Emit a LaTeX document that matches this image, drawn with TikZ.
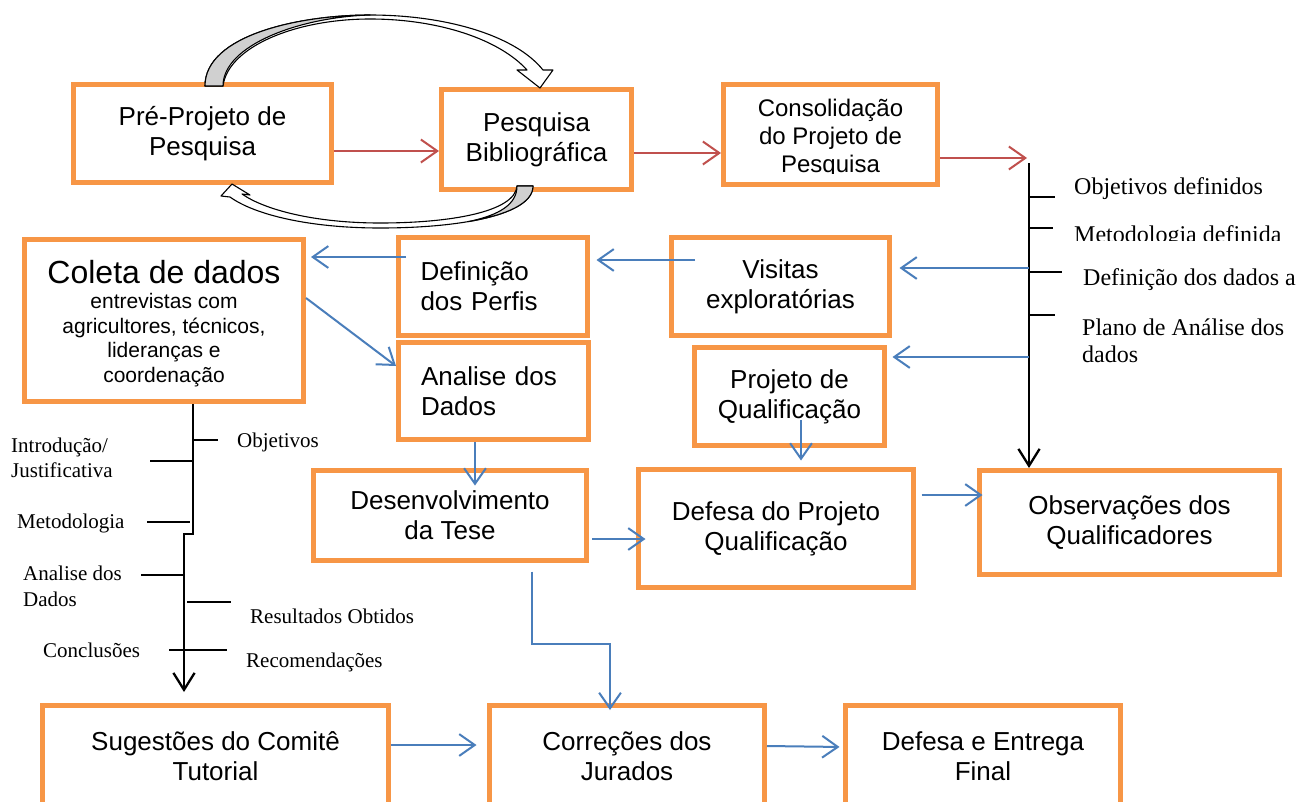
\documentclass[tikz,border=0pt]{standalone}
\usepackage{fontspec}
\setmainfont{Liberation Serif}
\newfontfamily\arial{Liberation Sans}
\usetikzlibrary{arrows.meta}
\definecolor{boxorange}{HTML}{F79646}
\definecolor{arrred}{HTML}{C0504D}
\definecolor{arrblue}{HTML}{4A7EBB}
\definecolor{curvegray}{HTML}{D0D0D0}
\begin{document}
\begin{tikzpicture}[x=1pt,y=-1pt,
  box/.style={draw=boxorange, line width=5pt, fill=white, inner sep=0pt, align=center,
    font=\arial\fontsize{26}{30}\selectfont},
  vhead/.style={-{Straight Barb[length=#1,width=2.4*#1,line width=2pt]}},
  redarr/.style={draw=arrred, line width=2pt, -{Straight Barb[angle=70:20pt]}},
  bluearr/.style={draw=arrblue, line width=2pt, -{Straight Barb[angle=70:19pt]}},
  blackln/.style={draw=black, line width=2.3pt},
  blackarr/.style={blackln, -{Straight Barb[angle=64:20pt]}},
  tick/.style={draw=black, line width=2pt},
  serifA/.style={font=\fontsize{24}{28}\selectfont, anchor=base west, inner sep=0pt},
  serifB/.style={font=\fontsize{21}{26}\selectfont, anchor=base west, inner sep=0pt},
  ribbon/.style={draw=black, line width=1.1pt, line join=round},
]
\useasboundingbox (0,0) rectangle (1299,801);
\fill[white] (0,0) rectangle (1299,801);

% ---------- top row ----------
\node[box, minimum width=258pt, minimum height=98pt] (pre) at (202.5,133.5) {Pré-Projeto de\\Pesquisa};
\node[box, minimum width=190pt, minimum height=100pt] (pesq) at (536.5,139.5) {Pesquisa\\Bibliográfica};
\node[box, minimum width=214pt, minimum height=100pt] (consol) at (830.5,134.5) {};
\begin{scope}
  \clip (724,85) rectangle (937,173);
  \node[font=\arial\fontsize{24}{28}\selectfont, align=center, inner sep=0pt] (consolt) at (830.5,138) {Consolidação\\do Projeto de\\Pesquisa};
\end{scope}

% curved block arrows
\filldraw[ribbon, fill=white] (205,86) .. controls (205,35) and (300,15) .. (370,15)
  .. controls (445,15) and (515,35) .. (543,70) -- (553,70) -- (540,88) -- (517,70) -- (527,70)
  .. controls (500,40) and (440,19) .. (370,19) .. controls (295,19) and (228,47) .. (223,86) -- cycle;
\filldraw[ribbon, fill=curvegray] (205,86) .. controls (205,35) and (300,15) .. (370,15)
  .. controls (300,17) and (223,45) .. (223,86) -- cycle;

\filldraw[ribbon, fill=white] (533,186) .. controls (533,215) and (460,228) .. (380,228)
  .. controls (310,228) and (255,215) .. (230,197) -- (221,196) -- (232,184) -- (250,195) -- (242,194)
  .. controls (265,210) and (315,223) .. (380,223) .. controls (450,223) and (515,212) .. (517,186) -- cycle;
\filldraw[ribbon, fill=curvegray] (533,186) .. controls (533,203.4) and (506.7,215.0) .. (468.4,221.6)
  .. controls (500,215) and (517,204) .. (517,186) -- cycle;

% red arrows
\coordinate (rtop) at (1029,163);
\coordinate (rarr) at (1027,158);
\draw[redarr] (pre.east |- 0,151) -- (pesq.west |- 0,151);
\draw[redarr] (pesq.east |- 0,153) -- (consol.west |- 0,153);
\draw[redarr] (consol.east |- 0,158) -- (rarr);

% ---------- middle ----------
\node[box, minimum width=279pt, minimum height=162pt] (coleta) at (164,320.5) {};
\node[font=\arial\fontsize{32}{36}\selectfont, inner sep=0pt] (coletat) at (164,272) {Coleta de dados};
\node[font=\arial\fontsize{21}{24.5}\selectfont, align=center, inner sep=0pt] (coletas) at (164,340) {entrevistas com\\agricultores, técnicos,\\lideranças e\\coordenação};

\node[box, minimum width=189pt, minimum height=98pt, text width=145pt, align=left] (defin) at (493,286.5) {Definição\\dos Perfis};
\node[box, minimum width=190pt, minimum height=97pt, text width=145pt, align=left] (ana) at (493.5,391) {Analise dos\\Dados};
\node[box, minimum width=218pt, minimum height=98pt] (visitas) at (780.5,286.5) {Visitas\\exploratórias};
\node[box, minimum width=190pt, minimum height=98pt] (projq) at (789.5,396.5) {Projeto de\\Qualificação};
\node[box, minimum width=273pt, minimum height=90pt] (desenv) at (450,515.5) {Desenvolvimento\\da Tese};
\node[box, minimum width=275pt, minimum height=118pt] (defesap) at (776,528.5) {Defesa do Projeto\\Qualificação};
\node[box, minimum width=300pt, minimum height=104pt] (observ) at (1129.5,522.5) {Observações dos\\Qualificadores};

% ---------- bottom row ----------
\node[box, minimum width=346pt, minimum height=102pt] (sugest) at (215.5,756.5) {Sugestões do Comitê\\Tutorial};
\node[box, minimum width=275pt, minimum height=102pt] (correc) at (627,756) {Correções dos\\Jurados};
\node[box, minimum width=275pt, minimum height=102pt] (defesae) at (983,756.5) {Defesa e Entrega\\Final};

% ---------- right ladder ----------
\draw[blackarr] (rtop) -- (observ.north -| rtop);
\draw[tick] (rtop |- 0,197) -- (1055,197);
\draw[tick] (rtop |- 0,228) -- (1053,228);
\draw[tick] (rtop |- 0,272) -- (1062,272);
\draw[tick] (rtop |- 0,315) -- (1055,315);
\node[serifA] (r1) at (1074,194) {Objetivos definidos};
\begin{scope}
  \clip (1060,215) rectangle (1299,240);
  \node[serifA] (r2) at (1074,242) {Metodologia definida};
\end{scope}
\node[serifA] (r3) at (1083,285) {Definição dos dados a};
\node[serifA] (r4) at (1082,335) {Plano de Análise dos};
\node[serifA] (r5) at (1082,362) {dados};

% ---------- left ladder ----------
\coordinate (lend) at (184,692);
\draw[blackarr] (coleta.south -| 193,0) -- (193,534) -- (184,534) -- (lend);
\draw[tick] (193,440) -- (218,440);
\draw[tick] (150,461) -- (193,461);
\draw[tick] (147,522) -- (190,522);
\draw[tick] (141,575) -- (184,575);
\draw[tick] (187,602) -- (231,602);
\draw[tick] (169,650) -- (227,650);
\node[serifB] (l1) at (237,447) {Objetivos};
\node[serifB] (l2) at (11,452) {Introdução/};
\node[serifB] (l3) at (11,477) {Justificativa};
\node[serifB] (l4) at (17,528) {Metodologia};
\node[serifB] (l5) at (23,580) {Analise dos};
\node[serifB] (l6) at (23,606) {Dados};
\node[serifB] (l7) at (250,623) {Resultados Obtidos};
\node[serifB] (l8) at (43,657) {Conclusões};
\node[serifB] (l9) at (246,667) {Recomendações};

% ---------- blue arrows ----------
\draw[bluearr, shorten <=-10pt, shorten >=5pt] (defin.west |- 0,257) -- (coleta.east |- 0,257);
\draw[bluearr, shorten <=-26pt, shorten >=6.5pt] (visitas.west |- 0,260) -- (defin.east |- 0,260);
\draw[bluearr, shorten >=7.5pt] (rtop |- 0,268) -- (visitas.east |- 0,268);
\draw[bluearr, shorten >=5.5pt] (rtop |- 0,357) -- (projq.east |- 0,357);
\draw[bluearr] (coleta.east |- 0,298) -- (ana.west |- 0,366);
\draw[bluearr, shorten >=-17.5pt] (ana.south -| 475,0) -- (desenv.north -| 475,0);
\draw[bluearr, shorten <=-28pt, shorten >=6.5pt] (projq.south -| 801,0) -- (defesap.north -| 801,0);
\draw[bluearr, shorten <=3pt, shorten >=-9.5pt] (desenv.east |- 0,539) -- (defesap.west |- 0,539);
\draw[bluearr, shorten <=5.5pt, shorten >=-5.5pt] (defesap.east |- 0,495) -- (observ.west |- 0,495);
\draw[bluearr, shorten <=8.5pt, shorten >=-7.5pt] (desenv.south -| 532,0) -- (532,644) -- (610,644) -- (correc.north -| 610,0);
\draw[bluearr, shorten >=10.5pt] (sugest.east |- 0,745) -- (correc.west |- 0,745);
\draw[bluearr, shorten >=3.5pt] (correc.east |- 0,746) -- (defesae.west |- 0,747);
\end{tikzpicture}
\end{document}
